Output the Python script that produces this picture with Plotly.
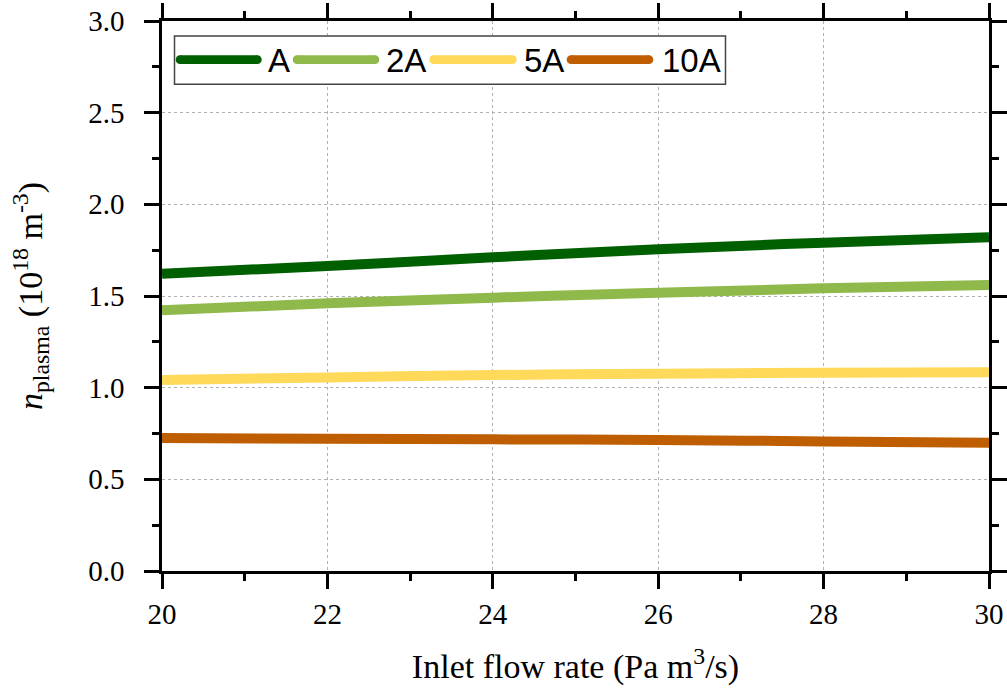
import plotly.graph_objects as go

flow = [20, 22, 24, 26, 28, 30]
n_A = [1.621, 1.664, 1.711, 1.755, 1.791, 1.820]
n_2A = [1.422, 1.460, 1.491, 1.518, 1.542, 1.560]
n_5A = [1.042, 1.056, 1.069, 1.076, 1.082, 1.084]
n_10A = [0.725, 0.722, 0.718, 0.715, 0.707, 0.700]

names = ["A", "2A", "5A", "10A"]
colors = ["#005f00", "#8fba4b", "#ffd95a", "#bf5e00"]
values = [n_A, n_2A, n_5A, n_10A]

W, H = 1007, 693
ML, MR, MT, MB = 162, 18, 21, 122
PW, PH = W - ML - MR, H - MT - MB

def px_x(p):
    return (p - ML) / PW

def px_y(p):
    return (H - MB - p) / PH

fig = go.Figure()
for name, vals, col in zip(names, values, colors):
    fig.add_trace(go.Scatter(x=flow, y=vals, mode="lines", name=name, showlegend=False,
                             line=dict(color=col, width=10, shape="spline")))

axis_common = dict(
    showline=True, linecolor="black", linewidth=2.5, mirror="ticks",
    ticks="outside", ticklen=15, tickwidth=2.5, tickcolor="black",
    showgrid=True, gridcolor="#b0b0b0", griddash="dot", gridwidth=1,
    zeroline=False, automargin=False,
    tickfont=dict(family="Liberation Serif", size=29, color="black"),
)
minor_common = dict(ticks="outside", ticklen=7, tickwidth=2.5, tickcolor="black", showgrid=False)

fig.update_xaxes(
    range=[20, 30], dtick=2, tick0=20,
    minor=dict(dtick=1, **minor_common),
    ticklabelstandoff=0,
    title=dict(text="Inlet flow rate (Pa m<sup>3</sup>/s)",
               font=dict(family="Liberation Serif", size=34, color="black"), standoff=26),
    **axis_common,
)
fig.update_yaxes(
    range=[0, 3], dtick=0.5, tick0=0, tickformat=".1f",
    minor=dict(dtick=0.25, **minor_common),
    ticklabelstandoff=14,
    title=dict(text="<i>n</i><sub>plasma</sub> (10<sup>18</sup> m<sup>-3</sup>)",
               font=dict(family="Liberation Serif", size=34, color="black"), standoff=36),
    **axis_common,
)

# custom legend (box, swatches with round ends, labels)
shapes = [dict(type="rect", xref="paper", yref="paper",
               x0=px_x(174.5), x1=px_x(725.5), y0=px_y(84.3), y1=px_y(36),
               fillcolor="white", line=dict(color="#444444", width=1.5), layer="above")]
annotations = []
sw_start = [175.7, 292.7, 429.3, 566.7]
sw_end = [261.7, 379.3, 516.7, 653.3]
txt_x = [266.7, 385.0, 522.7, 660.7]
ly = 59.7
lw = 8.7
for i, col in enumerate(colors):
    a, b = sw_start[i] + lw / 2, sw_end[i] - lw / 2
    shapes.append(dict(type="line", xref="paper", yref="paper",
                       x0=px_x(a), x1=px_x(b), y0=px_y(ly), y1=px_y(ly),
                       line=dict(color=col, width=lw), layer="above"))
    for c in (a, b):
        shapes.append(dict(type="circle", xref="paper", yref="paper",
                           xsizemode="pixel", ysizemode="pixel",
                           xanchor=px_x(c), yanchor=px_y(ly),
                           x0=-lw / 2, x1=lw / 2, y0=-lw / 2, y1=lw / 2,
                           fillcolor=col, line=dict(width=0), layer="above"))
    annotations.append(dict(text=names[i], xref="paper", yref="paper",
                            x=px_x(txt_x[i] - 1), y=px_y(ly + 1), xanchor="left", yanchor="middle",
                            showarrow=False,
                            font=dict(family="Liberation Sans", size=33, color="black")))

fig.update_layout(
    width=W, height=H,
    margin=dict(l=ML, r=MR, t=MT, b=MB),
    paper_bgcolor="white", plot_bgcolor="white",
    showlegend=False,
    shapes=shapes, annotations=annotations,
)

fig.write_html("out.html", config={"displayModeBar": False},
               post_script="document.body.style.margin='0';")
